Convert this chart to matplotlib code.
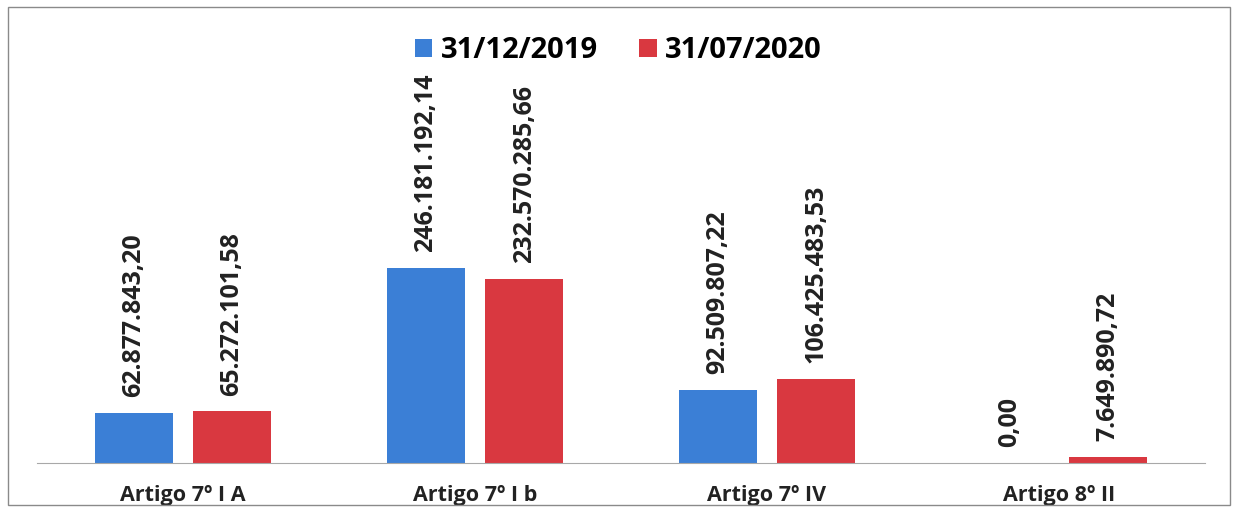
import matplotlib.pyplot as plt
import numpy as np

# chart values
categories = ['Artigo 7º I A', 'Artigo 7º I b', 'Artigo 7º IV', 'Artigo 8º II']
series_names = ['31/12/2019', '31/07/2020']
values_2019 = [62877843.20, 246181192.14, 92509807.22, 0.00]
values_2020 = [65272101.58, 232570285.66, 106425483.53, 7649890.72]
colors = ['#3b7fd6', '#d93840']


def fmt_br(v):
    # brazilian number format: 1.234.567,89
    s = f'{v:,.2f}'
    return s.replace(',', 'X').replace('.', ',').replace('X', '.')


plt.rcParams['font.family'] = ['Open Sans', 'DejaVu Sans']

fig = plt.figure(figsize=(12.37, 5.12), dpi=100)
# outer border
fig.patches.append(plt.Rectangle((8 / 1237, 7 / 512), 1222 / 1237, 498 / 512,
                                 transform=fig.transFigure, fill=False,
                                 edgecolor='#8a8a8a', linewidth=1.0))

ax = fig.add_axes([37 / 1237, 49 / 512, 1168 / 1237, 393 / 512])
x = np.arange(len(categories))
width = 0.267
offset = 0.168

ax.bar(x - offset, values_2019, width, color=colors[0], label=series_names[0])
ax.bar(x + offset, values_2020, width, color=colors[1], label=series_names[1])

ymax = 246181192.14 * 393 / 195
ax.set_ylim(0, ymax)
ax.set_xlim(-0.5, len(categories) - 0.5)

pad = ymax * 0.04
for xs, vals in [(x - offset, values_2019), (x + offset, values_2020)]:
    for xi, v in zip(xs, vals):
        ax.text(xi, v + pad, fmt_br(v), rotation=90, ha='center', va='bottom',
                fontsize=18, fontweight='bold', color='#222222')

for s in ['top', 'right', 'left']:
    ax.spines[s].set_visible(False)
ax.spines['bottom'].set_color('#a8a8a8')
ax.set_yticks([])
ax.set_xticks(x)
ax.set_xticklabels(categories, fontsize=15.5, fontweight='bold', color='#222222')
ax.tick_params(axis='x', length=0, pad=16)

fig.legend(loc='upper center', bbox_to_anchor=(0.5, 0.98), ncol=2, frameon=False,
           prop={'size': 21, 'weight': 'bold'}, handlelength=0.6, handleheight=0.6,
           handletextpad=0.3, columnspacing=1.4)

fig.savefig('out.png', dpi=100)
